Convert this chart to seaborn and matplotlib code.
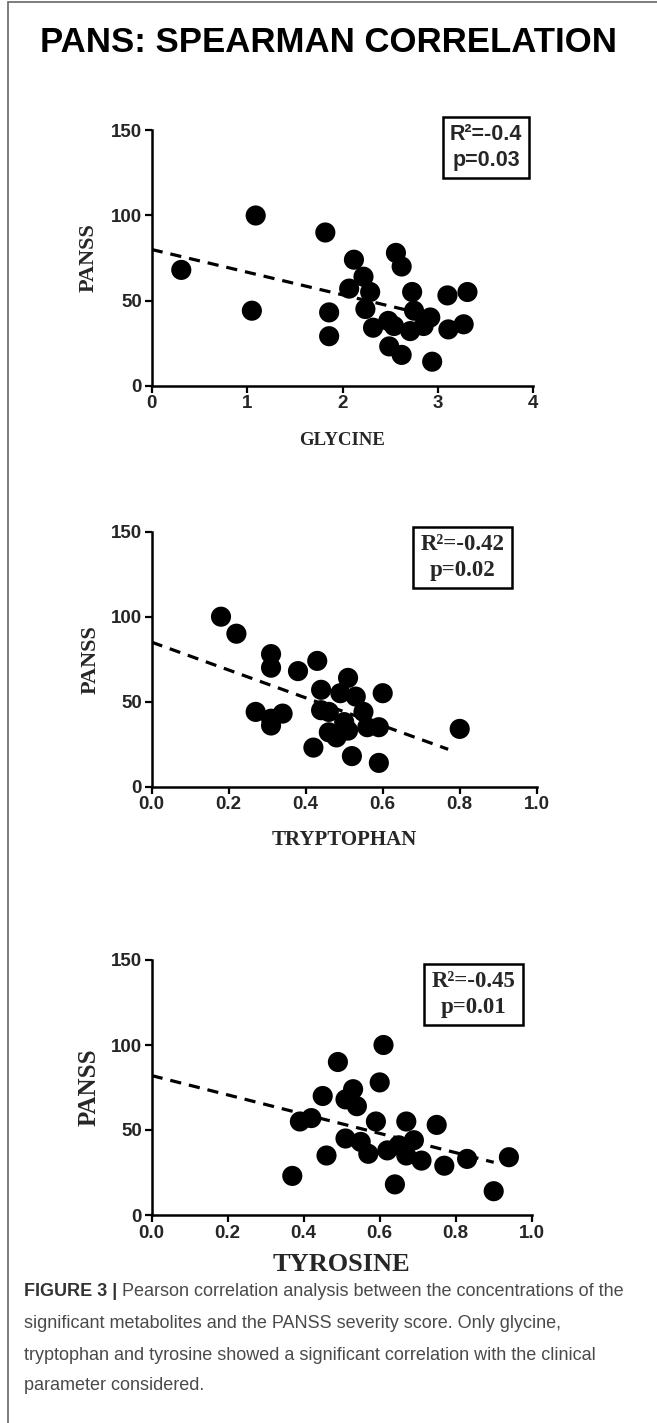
import matplotlib
matplotlib.use('Agg')
import matplotlib.pyplot as plt
import seaborn as sns
import pandas as pd
from matplotlib.patches import Rectangle

# Glycine vs PANSS
glycine_x = [0.31, 1.09, 1.05, 1.82, 1.86, 1.86, 2.12, 2.07, 2.22, 2.29, 2.24, 2.32,
             2.48, 2.54, 2.49, 2.62, 2.56, 2.62, 2.73, 2.75, 2.71, 2.85, 2.92, 2.94,
             3.10, 3.11, 3.27, 3.31]
glycine_y = [68, 100, 44, 90, 43, 29, 74, 57, 64, 55, 45, 34,
             38, 35, 23, 18, 78, 70, 55, 44, 32, 35, 40, 14,
             53, 33, 36, 55]
glycine_fit_x = [0, 2.85]
glycine_fit_y = [80, 42]

# Tryptophan vs PANSS
tryptophan_x = [0.18, 0.22, 0.31, 0.31, 0.38, 0.43, 0.44, 0.49, 0.51, 0.53, 0.60, 0.27,
                0.31, 0.31, 0.34, 0.44, 0.46, 0.46, 0.48, 0.50, 0.51, 0.55, 0.56, 0.59,
                0.42, 0.52, 0.59, 0.80]
tryptophan_y = [100, 90, 78, 70, 68, 74, 57, 55, 64, 53, 55, 44,
                40, 36, 43, 45, 44, 32, 29, 38, 33, 44, 35, 35,
                23, 18, 14, 34]
tryptophan_fit_x = [0, 0.77]
tryptophan_fit_y = [85, 22]

# Tyrosine vs PANSS
tyrosine_x = [0.37, 0.39, 0.42, 0.45, 0.46, 0.49, 0.51, 0.53, 0.54, 0.51, 0.55, 0.57,
              0.61, 0.60, 0.59, 0.62, 0.64, 0.65, 0.67, 0.67, 0.69, 0.71, 0.75, 0.77,
              0.83, 0.90, 0.94]
tyrosine_y = [23, 55, 57, 70, 35, 90, 68, 74, 64, 45, 43, 36,
              100, 78, 55, 38, 18, 41, 35, 55, 44, 32, 53, 29,
              33, 14, 34]
tyrosine_fit_x = [0, 0.90]
tyrosine_fit_y = [82, 31]

panel_names = ['GLYCINE', 'TRYPTOPHAN', 'TYROSINE']
stats_text = ['R\u00b2=-0.4\np=0.03', 'R\u00b2=-0.42\np=0.02', 'R\u00b2=-0.45\np=0.01']
x_limits = [4, 1, 1]
x_ticks = [[0, 1, 2, 3, 4], [0.0, 0.2, 0.4, 0.6, 0.8, 1.0], [0.0, 0.2, 0.4, 0.6, 0.8, 1.0]]
x_ticklabels = [['0', '1', '2', '3', '4'],
                ['0.0', '0.2', '0.4', '0.6', '0.8', '1.0'],
                ['0.0', '0.2', '0.4', '0.6', '0.8', '1.0']]
y_ticks = [0, 50, 100, 150]

caption_bold = 'FIGURE 3 |'
caption_lines = [' Pearson correlation analysis between the concentrations of the',
                 'significant metabolites and the PANSS severity score. Only glycine,',
                 'tryptophan and tyrosine showed a significant correlation with the clinical',
                 'parameter considered.']

sns.set_style('ticks')
plt.rcParams['font.family'] = ['Liberation Sans', 'DejaVu Sans']

W, H = 657, 1423
fig = plt.figure(figsize=(W / 100, H / 100), dpi=100)

# axes boxes in pixels: left, right, top(150), bottom(0)
boxes = [(151.7, 533.3, 130.5, 385.5),
         (151.7, 536.7, 531.7, 786.7),
         (151.7, 531.7, 960.0, 1215.0)]
ylabel_x = [-0.14, -0.132, -0.135]
ylabel_size = [16, 16, 18]
xlabel_y = [-0.182, -0.17, -0.15]
xlabel_size = [13.5, 15, 19]
stat_pos = [(0.876, 0.933), (0.807, 0.899), (0.847, 0.865)]
stat_font = ['Liberation Sans', 'Liberation Serif', 'Liberation Serif']
stat_size = [15.5, 16.5, 16.5]

datasets = [
    (glycine_x, glycine_y, glycine_fit_x, glycine_fit_y),
    (tryptophan_x, tryptophan_y, tryptophan_fit_x, tryptophan_fit_y),
    (tyrosine_x, tyrosine_y, tyrosine_fit_x, tyrosine_fit_y),
]

for i, (xs, ys, fx, fy) in enumerate(datasets):
    l, r, t, b = boxes[i]
    ax = fig.add_axes([l / W, 1 - b / H, (r - l) / W, (b - t) / H])
    df = pd.DataFrame({'x': xs, 'y': ys})
    fit = pd.DataFrame({'x': fx, 'y': fy})

    sns.lineplot(data=fit, x='x', y='y', ax=ax, color='black', linewidth=2.3,
                 linestyle=(0, (3.5, 2.5)), zorder=2)
    sns.scatterplot(data=df, x='x', y='y', ax=ax, color='black', s=210,
                    edgecolor='none', zorder=3, clip_on=False)

    ax.set_xlim(0, x_limits[i])
    ax.set_ylim(0, 150)
    ax.set_xticks(x_ticks[i])
    ax.set_xticklabels(x_ticklabels[i])
    ax.set_yticks(y_ticks)
    for lab in ax.get_xticklabels() + ax.get_yticklabels():
        lab.set_fontweight('bold')
        lab.set_fontsize(13.5)
    ax.tick_params(length=5, width=1.6, pad=2, color='black')
    sns.despine(ax=ax)
    for sp in ['left', 'bottom']:
        ax.spines[sp].set_linewidth(1.8)
        ax.spines[sp].set_color('black')

    ax.set_ylabel('PANSS', fontsize=ylabel_size[i], fontweight='bold',
                  family='Liberation Serif')
    ax.yaxis.set_label_coords(ylabel_x[i], 0.5)
    ax.set_xlabel(panel_names[i], fontsize=xlabel_size[i], fontweight='bold',
                  family='Liberation Serif')
    ax.xaxis.set_label_coords(0.5, xlabel_y[i])

    ax.text(stat_pos[i][0], stat_pos[i][1], stats_text[i], transform=ax.transAxes,
            ha='center', va='center', fontsize=stat_size[i], fontweight='bold',
            family=stat_font[i], linespacing=1.3, clip_on=False,
            bbox=dict(boxstyle='square,pad=0.32', facecolor='white',
                      edgecolor='black', linewidth=1.8))

# title
fig.text(328 / W, 1 - 42 / H, 'PANS: SPEARMAN CORRELATION', ha='center', va='center',
         fontsize=25, fontweight='bold', color='black')

# frame around the figure panel
fig.patches.append(Rectangle((8 / W, -0.05), 1.2, 1.05 - 2 / H, transform=fig.transFigure,
                             fill=False, edgecolor='#666666', linewidth=1.2))

# caption
fig.canvas.draw()
renderer = fig.canvas.get_renderer()
cap_y = [1291, 1323, 1355, 1386]
x0 = 24 / W
tb = fig.text(x0, 1 - cap_y[0] / H, caption_bold, ha='left', va='center', fontsize=13,
              fontweight='bold', color='#333333')
bb = tb.get_window_extent(renderer=renderer)
fig.text(bb.x1 / W, 1 - cap_y[0] / H, caption_lines[0], ha='left', va='center',
         fontsize=13, color='#4a4a4a')
for k in range(1, 4):
    fig.text(x0, 1 - cap_y[k] / H, caption_lines[k], ha='left', va='center',
             fontsize=13, color='#4a4a4a')

fig.savefig('out.png', dpi=100)
